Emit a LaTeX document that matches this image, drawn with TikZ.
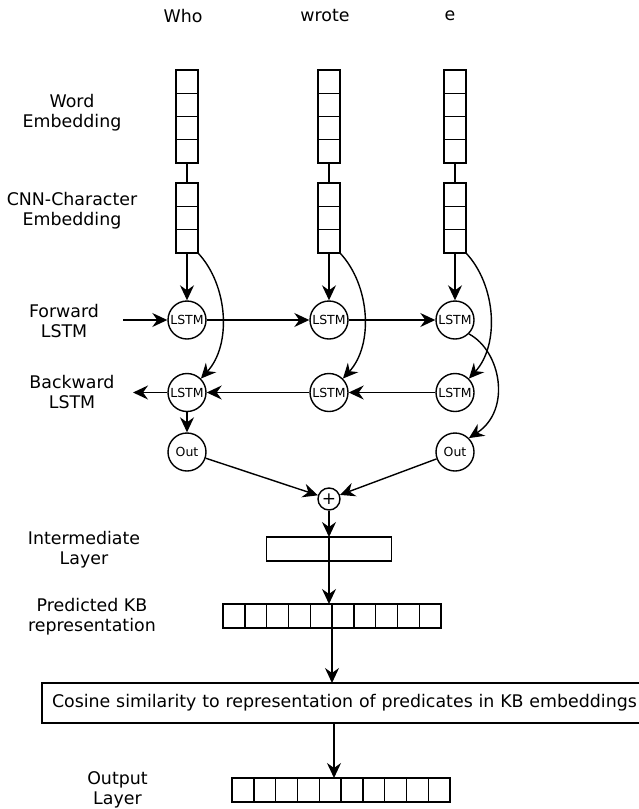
\documentclass[tikz,border=0pt]{standalone}
\usepackage{fontspec}
\setmainfont{DejaVu Sans}
\usetikzlibrary{arrows.meta,calc}
\begin{document}
\begin{tikzpicture}[x=1pt,y=-1pt,
  lw/.style={line width=1.4pt},
  arr/.style={lw,-{Stealth[length=15pt,width=14pt,inset=5pt]}},
  lab/.style={align=center,font=\fontsize{17.4}{20}\selectfont,inner sep=0pt},
  cellbox/.style={draw,lw,inner sep=0pt,outer sep=0pt},
  unit/.style={draw,lw,circle,minimum size=38pt,inner sep=0pt,font=\fontsize{12.5}{13}\selectfont},
]
\useasboundingbox (0,0) rectangle (639,809);

% words
\node[lab] (t1) at (183,16) {Who};
\node[lab] (t2) at (325,16) {wrote};
\node[lab] (t3) at (450,16) {e};

% side labels
\node[lab] (lw) at (72,113) {Word\\Embedding};
\node[lab] (lc) at (72,211) {CNN-Character\\Embedding};
\node[lab] (lf) at (64,321) {Forward\\LSTM};
\node[lab] (lb) at (72,392) {Backward\\LSTM};
\node[lab] (li) at (84,550) {Intermediate\\Layer};
\node[lab] (lk) at (92,617) {Predicted KB\\representation};
\node[lab] (lo) at (117.5,790) {Output\\Layer};

% stacks
\foreach \c/\x in {1/187,2/329,3/455}{
  \node[cellbox,minimum width=22pt,minimum height=93pt] (w\c) at (\x,116.5) {};
  \node[cellbox,minimum width=22pt,minimum height=70pt] (c\c) at (\x,218) {};
  \foreach \i in {1,2,3}{
    \draw[lw] ($(w\c.north west)!\i/4!(w\c.south west)$) -- ($(w\c.north east)!\i/4!(w\c.south east)$);
  }
  \foreach \i in {1,2}{
    \draw[lw] ($(c\c.north west)!\i/3!(c\c.south west)$) -- ($(c\c.north east)!\i/3!(c\c.south east)$);
  }
  \draw[lw] (w\c.south) -- (c\c.north);
  \node[unit] (f\c) at (\x,320) {LSTM};
  \node[unit] (b\c) at (\x,392.5) {LSTM};
  \draw[arr] (c\c.south) -- (f\c);
}
\node[unit] (o1) at (187,452) {Out};
\node[unit] (o3) at (455,452) {Out};

\coordinate (fin) at (123,320);
\coordinate (bout) at (133,392.5);
\draw[arr] (fin) -- (f1);
\draw[arr] (f1) -- (f2);
\draw[arr] (f2) -- (f3);
\draw[arr] (b3) -- (b2);
\draw[arr] (b2) -- (b1);
\draw[arr] (b1) -- (bout);
\draw[arr] (b1) -- (o1);

\foreach \c in {1,2,3}{
  \draw[arr] (c\c.south east) .. controls +(30,32) and +(31,-34) .. (b\c.45);
}
\draw[arr] (f3.-45) .. controls +(32,17) and +(43,-28) .. (o3.45);

% merge
\node[draw,lw,circle,minimum size=22pt,inner sep=0pt,font=\fontsize{17}{17}\selectfont] (plus) at (329,499) {+};
\draw[arr] (o1) -- (plus);
\draw[arr] (o3) -- (plus);

\node[cellbox,minimum width=125pt,minimum height=24pt] (inter) at (329,549) {};
\draw[arr] (plus) -- (inter.north);

\node[cellbox,minimum width=218pt,minimum height=24pt] (kb) at (332,616) {};
\foreach \i in {1,...,9}{
  \draw[lw] ($(kb.north west)!\i/10!(kb.north east)$) -- ($(kb.south west)!\i/10!(kb.south east)$);
}
\draw[arr] (inter.north) -- (kb.north -| inter.north);

\node[draw,lw,anchor=west,minimum height=40pt,text width=610pt,align=left,inner xsep=10pt,inner ysep=0pt,outer sep=0pt,font=\fontsize{17.4}{20}\selectfont] (cos) at (42,703) {Cosine similarity to representation of predicates in KB embeddings};
\draw[arr] (kb.south) -- (cos.north -| kb.south);

\node[cellbox,minimum width=218pt,minimum height=24pt] (out) at (341,790) {};
\foreach \i in {1,...,9}{
  \draw[lw] ($(out.north west)!\i/10!(out.north east)$) -- ($(out.south west)!\i/10!(out.south east)$);
}
\coordinate (ax) at (334,0);
\draw[arr] (cos.south -| ax) -- (out.north -| ax);
\end{tikzpicture}
\end{document}
